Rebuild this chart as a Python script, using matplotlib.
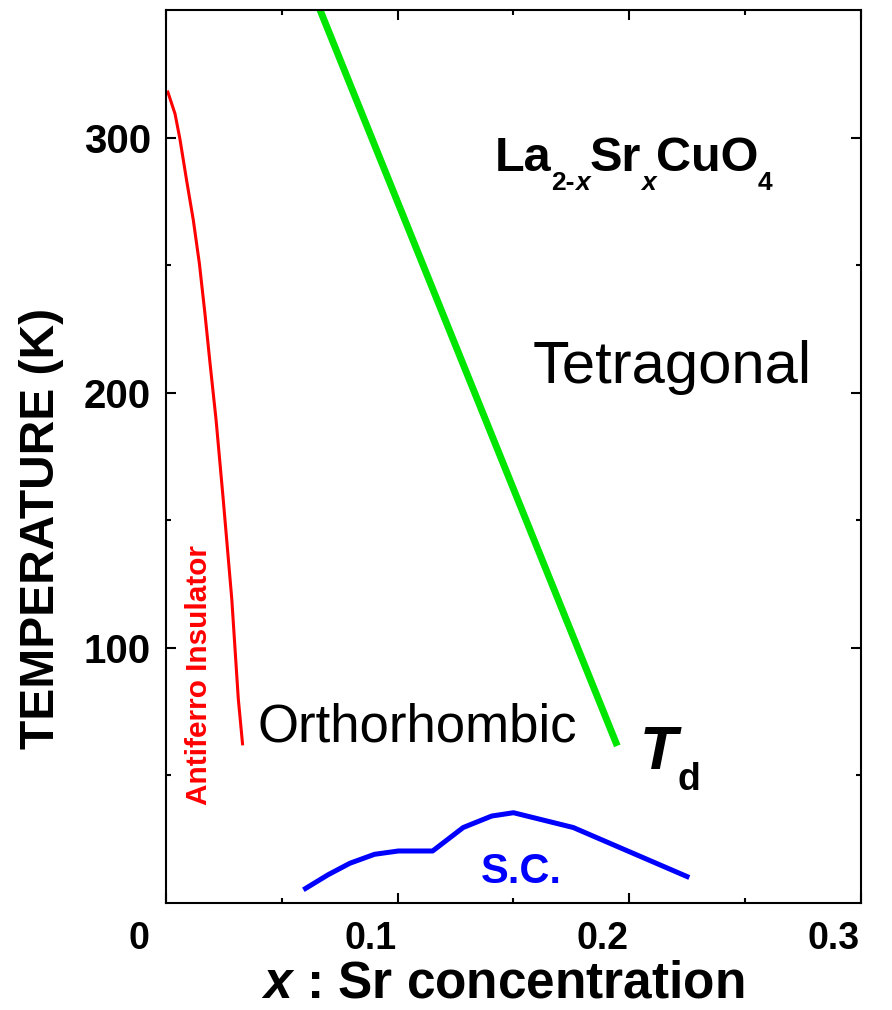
import matplotlib
matplotlib.use("Agg")
import matplotlib.pyplot as plt
from matplotlib.ticker import MultipleLocator, FixedLocator
from matplotlib.transforms import ScaledTranslation

# phase boundaries of La2-xSrxCuO4
afm_x = [0.0006, 0.0039, 0.0060, 0.0089, 0.0118, 0.0144, 0.0168, 0.0190, 0.0216,
         0.0247, 0.0284, 0.0312, 0.0331]
afm_t = [318.4, 309.3, 299.5, 283.2, 267.6, 250.7, 231.1, 211.6, 189.5,
         158.2, 119.1, 80.1, 61.8]

td_x = [0.0665, 0.1948]
td_t = [350.0, 61.6]

sc_x = [0.0593, 0.0700, 0.0794, 0.0900, 0.1003, 0.1151, 0.1283, 0.1406, 0.1500,
        0.1758, 0.2259]
sc_t = [5.2, 11.1, 15.6, 19.1, 20.4, 20.4, 29.6, 34.1, 35.4, 29.6, 10.0]

x_ticks = [0, 0.1, 0.2, 0.3]
x_tick_labels = ["0", "0.1", "0.2", "0.3"]
y_ticks = [100, 200, 300]
y_tick_labels = ["100", "200", "300"]

plt.rcParams['font.family'] = ['Liberation Sans', 'DejaVu Sans']
plt.rcParams['mathtext.fontset'] = 'custom'
plt.rcParams['mathtext.rm'] = 'Liberation Sans:bold'
plt.rcParams['mathtext.it'] = 'Liberation Sans:italic:bold'
plt.rcParams['mathtext.bf'] = 'Liberation Sans:bold'

fig = plt.figure(figsize=(8.92, 10.1), dpi=100)
ax = fig.add_axes([0.1861, 0.1059, 0.7791, 0.8842])

ax.plot(afm_x, afm_t, color='#ff0000', lw=2.2, solid_capstyle='butt')
ax.plot(td_x, td_t, color='#00e600', lw=5.0, solid_capstyle='butt')
ax.plot(sc_x, sc_t, color='#0000ff', lw=3.6, solid_capstyle='butt')

ax.set_xlim(0, 0.3)
ax.set_ylim(0, 350)
ax.xaxis.set_major_locator(FixedLocator(x_ticks))
ax.set_xticklabels(x_tick_labels)
ax.xaxis.set_minor_locator(MultipleLocator(0.05))
ax.yaxis.set_major_locator(FixedLocator(y_ticks))
ax.set_yticklabels(y_tick_labels)
ax.yaxis.set_minor_locator(FixedLocator([50, 150, 250]))

for s in ax.spines.values():
    s.set_linewidth(1.5)
ax.tick_params(which='both', direction='in', top=True, right=True, width=1.5)
ax.tick_params(which='major', length=7)
ax.tick_params(which='minor', length=3.5)
ax.tick_params(axis='x', labelsize=27, pad=13)
ax.tick_params(axis='y', labelsize=29, pad=11)
# x tick labels sit a bit left of their ticks
shift = ScaledTranslation(-27 / 100, 0, fig.dpi_scale_trans)
for lab in ax.get_xticklabels():
    lab.set_fontweight('bold')
    lab.set_transform(lab.get_transform() + shift)
for lab in ax.get_yticklabels():
    lab.set_fontweight('bold')

ax.set_xlabel(r'$x$ : Sr concentration', fontsize=37, fontweight='bold', labelpad=2)
ax.xaxis.label.set_x(0.485)
ax.set_ylabel('TEMPERATURE (K)', fontsize=34.5, fontweight='bold', labelpad=14)
ax.yaxis.label.set_y(0.42)


def chain(s, prev, base, size, style='normal', dy=0):
    # place a text piece right after prev, bottom-aligned to base
    return ax.annotate(s, xy=(1, 0), xycoords=(prev, base), xytext=(0, dy),
                       textcoords='offset points', fontsize=size,
                       fontweight='bold', fontstyle=style, va='bottom', ha='left')


# formula label with small subscripts
main_sz, sub_sz, sub_dy = 35, 19, -10
t0 = ax.text(0.142, 287, 'La', fontsize=main_sz, fontweight='bold', va='baseline')
p = chain('2-', t0, t0, sub_sz, dy=sub_dy)
p = chain('x', p, t0, sub_sz, style='italic', dy=sub_dy)
p = chain('Sr', p, t0, main_sz)
p = chain('x', p, t0, sub_sz, style='italic', dy=sub_dy)
p = chain('CuO', p, t0, main_sz)
p = chain('4', p, t0, sub_sz, dy=sub_dy)

# T_d label
td = ax.text(0.2046, 52.7, 'T', fontsize=44, fontweight='bold', fontstyle='italic',
             va='baseline')
chain('d', td, td, 27, dy=-12)

ax.text(0.1584, 204, 'Tetragonal', fontsize=43, va='baseline')
ax.text(0.0393, 63.3, 'Orthorhombic', fontsize=38, va='baseline')
ax.text(0.1532, 7.8, 'S.C.', fontsize=30, fontweight='bold', color='#0000ff',
        ha='center', va='baseline')
ax.text(0.0142, 89.4, 'Antiferro Insulator', fontsize=21.4, fontweight='bold',
        color='#ff0000', rotation=90, ha='center', va='center')

fig.savefig('out.png', dpi=100)
